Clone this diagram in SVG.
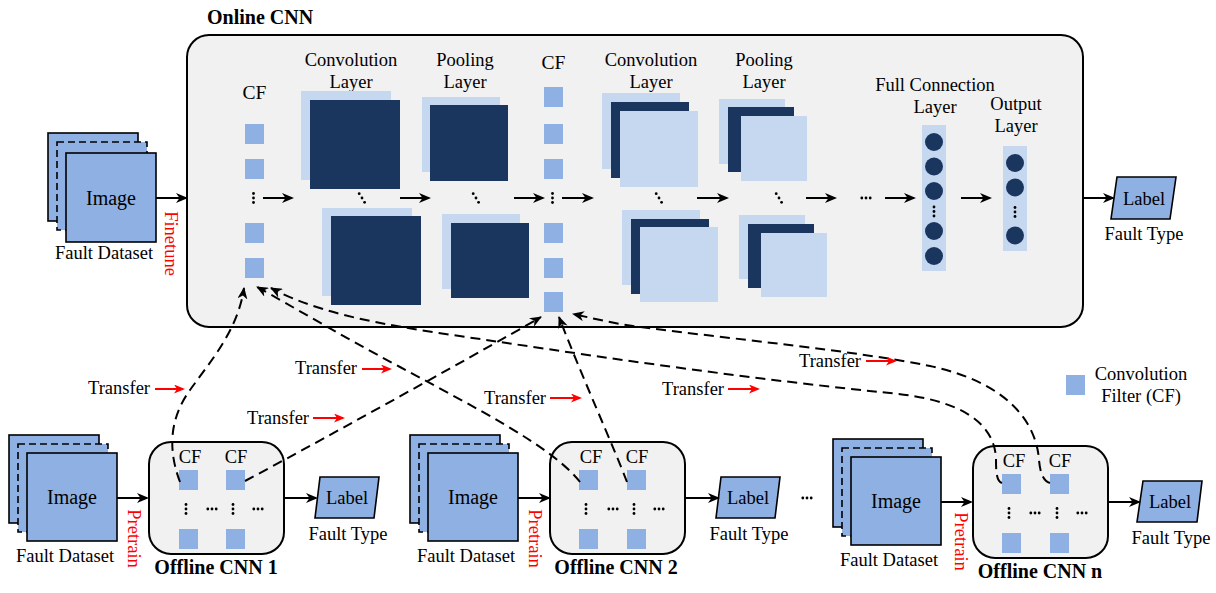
<svg xmlns="http://www.w3.org/2000/svg" width="1216" height="593" viewBox="0 0 1216 593">
<defs>
<style>
text{font-family:"Liberation Serif","Times New Roman",serif;font-size:18.5px;fill:#000}
.b{font-weight:bold;font-size:20px}
.r{fill:#ff0000}
.m{text-anchor:middle}
.img{fill:#8eb0e3;stroke:#000;stroke-width:1.6}
.dsh{stroke-dasharray:7,4}
.cf{fill:#8eb0e3}
.lt{fill:#c5d8ef}
.dk{fill:#1a355e}
.box{fill:#f1f1f1;stroke:#000;stroke-width:2}
.arr{stroke:#000;stroke-width:2;fill:none;marker-end:url(#ah)}
.rarr{stroke:#ff0000;stroke-width:2;fill:none;marker-end:url(#rh)}
.tr{stroke:#000;stroke-width:2;fill:none;stroke-dasharray:10,6;marker-end:url(#dh)}
.lbl{fill:#8eb0e3;stroke:#000;stroke-width:1.6}
</style>
<marker id="ah" viewBox="0 0 12 10" refX="10" refY="5" markerWidth="12" markerHeight="10" markerUnits="userSpaceOnUse" orient="auto"><path d="M0,0 L12,5 L0,10 L3.5,5 z" fill="#000"/></marker>
<marker id="rh" viewBox="0 0 11 9" refX="9" refY="4.5" markerWidth="11" markerHeight="9" markerUnits="userSpaceOnUse" orient="auto"><path d="M0,0 L11,4.5 L0,9 L3,4.5 z" fill="#ff0000"/></marker>
<marker id="dh" viewBox="0 0 12 10" refX="11" refY="5" markerWidth="12" markerHeight="10" markerUnits="userSpaceOnUse" orient="auto"><path d="M0,0 L12,5 L0,10 L3.5,5 z" fill="#000"/></marker>
<g id="vd"><circle cx="0" cy="-4.5" r="1.4"/><circle cx="0" cy="0" r="1.4"/><circle cx="0" cy="4.5" r="1.4"/></g>
<g id="hd"><circle cx="-4.2" cy="0" r="1.4"/><circle cx="0" cy="0" r="1.4"/><circle cx="4.2" cy="0" r="1.4"/></g>
<g id="dd"><circle cx="-2.8" cy="-4.3" r="1.4"/><circle cx="0" cy="0" r="1.4"/><circle cx="2.6" cy="4.3" r="1.4"/></g>
</defs>

<g id="online-cnn">
<text class="b" x="207" y="24">Online CNN</text>
<rect class="box" x="187" y="35" width="896" height="292" rx="22"/>
</g>

<g id="online-dataset">
<rect class="img" x="48" y="133" width="90" height="88"/>
<rect class="img dsh" x="57" y="142" width="90" height="88"/>
<rect class="img" x="66" y="153" width="90" height="89"/>
<text class="m" x="111" y="205" style="font-size:20px">Image</text>
<text class="m" x="104" y="259">Fault Dataset</text>
</g>
<text class="r m" transform="translate(165,243.5) rotate(90)">Finetune</text>

<g id="cf1">
<text class="m" x="254.5" y="99" style="font-size:19.5px">CF</text>
<rect class="cf" x="245" y="124" width="19" height="20"/>
<rect class="cf" x="245" y="159" width="19" height="20"/>
<use href="#vd" x="253.5" y="198"/>
<rect class="cf" x="245" y="223" width="19" height="20"/>
<rect class="cf" x="245" y="258" width="19" height="20"/>
</g>

<g id="conv1">
<text class="m" x="351" y="66">Convolution</text>
<text class="m" x="351" y="88">Layer</text>
<rect class="lt" x="301" y="91" width="90" height="89"/>
<rect class="dk" x="310" y="100" width="90" height="89"/>
<use href="#dd" x="362" y="198"/>
<rect class="lt" x="322" y="208" width="90" height="88"/>
<rect class="dk" x="331" y="216" width="90" height="89"/>
</g>

<g id="pool1">
<text class="m" x="465" y="66">Pooling</text>
<text class="m" x="465" y="88">Layer</text>
<rect class="lt" x="422" y="97" width="78" height="75"/>
<rect class="dk" x="430" y="105" width="78" height="76"/>
<use href="#dd" x="476" y="198"/>
<rect class="lt" x="442" y="214" width="78" height="75"/>
<rect class="dk" x="451" y="223" width="78" height="75"/>
</g>

<g id="cf2">
<text class="m" x="553.5" y="69" style="font-size:19.5px">CF</text>
<rect class="cf" x="544" y="87" width="19" height="20"/>
<rect class="cf" x="544" y="124" width="19" height="20"/>
<rect class="cf" x="544" y="159" width="19" height="20"/>
<use href="#vd" x="552.5" y="198"/>
<rect class="cf" x="544" y="223" width="19" height="20"/>
<rect class="cf" x="544" y="258" width="19" height="20"/>
<rect class="cf" x="544" y="292" width="19" height="20"/>
</g>

<g id="conv2">
<text class="m" x="651" y="66">Convolution</text>
<text class="m" x="651" y="88">Layer</text>
<rect class="lt" x="602" y="93" width="78" height="76"/>
<rect class="dk" x="611" y="102" width="78" height="76"/>
<rect class="lt" x="620" y="111" width="78" height="76"/>
<use href="#dd" x="659" y="198"/>
<rect class="lt" x="622" y="210" width="78" height="75"/>
<rect class="dk" x="631" y="219" width="78" height="75"/>
<rect class="lt" x="640" y="227" width="78" height="75"/>
</g>

<g id="pool2">
<text class="m" x="764" y="66">Pooling</text>
<text class="m" x="764" y="88">Layer</text>
<rect class="lt" x="719" y="99" width="66" height="65"/>
<rect class="dk" x="728" y="107" width="66" height="65"/>
<rect class="lt" x="741" y="116" width="66" height="65"/>
<use href="#dd" x="779" y="198"/>
<rect class="lt" x="739" y="215" width="66" height="64"/>
<rect class="dk" x="748" y="224" width="66" height="64"/>
<rect class="lt" x="761" y="233" width="66" height="64"/>
</g>

<g id="ellipsis-online"><use href="#hd" x="866" y="198"/></g>

<g id="full-connection">
<text class="m" x="935" y="91">Full Connection</text>
<text class="m" x="935" y="113">Layer</text>
<rect class="lt" x="922" y="125" width="24" height="146"/>
<g class="dk"><circle cx="934" cy="142" r="9"/><circle cx="934" cy="166.5" r="9"/><circle cx="934" cy="191" r="9"/><circle cx="934" cy="231" r="9"/><circle cx="934" cy="256" r="9"/></g>
<use href="#vd" x="934" y="211.5"/>
</g>

<g id="output-layer">
<text class="m" x="1016" y="110">Output</text>
<text class="m" x="1016" y="132">Layer</text>
<rect class="lt" x="1003" y="146" width="24" height="105"/>
<g class="dk"><circle cx="1015" cy="163" r="9"/><circle cx="1015" cy="187.5" r="9"/><circle cx="1015" cy="235.5" r="9"/></g>
<use href="#vd" x="1015" y="212"/>
</g>

<g id="online-label">
<polygon class="lbl" points="1117,177 1176,177 1170,219 1111,219"/>
<text class="m" x="1144" y="205">Label</text>
<text class="m" x="1144" y="240">Fault Type</text>
</g>

<!-- Offline CNN 1 -->
<g id="dataset1">
<rect class="img" x="9" y="435" width="90" height="88"/>
<rect class="img dsh" x="18" y="444" width="90" height="88"/>
<rect class="img" x="27" y="453" width="90" height="88"/>
<text class="m" x="72" y="504" style="font-size:20px">Image</text>
<text class="m" x="65" y="562">Fault Dataset</text>
</g>
<text class="r m" transform="translate(128,538.5) rotate(90)">Pretrain</text>
<g id="offline-cnn-1">
<rect class="box" x="149" y="442" width="135" height="112" rx="22"/>
<text class="m" x="190" y="463">CF</text>
<text class="m" x="236" y="463">CF</text>
<rect class="cf" x="179" y="470" width="19" height="20"/>
<rect class="cf" x="226" y="470" width="19" height="20"/>
<rect class="cf" x="179" y="529" width="19" height="20"/>
<rect class="cf" x="226" y="529" width="19" height="20"/>
<use href="#vd" x="186" y="509"/><use href="#hd" x="212" y="509"/>
<use href="#vd" x="233" y="509"/><use href="#hd" x="258" y="509"/>
<text class="b m" x="216" y="574">Offline CNN 1</text>
</g>
<g id="label1">
<polygon class="lbl" points="320,477 379,477 374,518 315,518"/>
<text class="m" x="347" y="504">Label</text>
<text class="m" x="348" y="540">Fault Type</text>
</g>

<!-- Offline CNN 2 -->
<g id="dataset2">
<rect class="img" x="410" y="435" width="90" height="88"/>
<rect class="img dsh" x="419" y="444" width="90" height="88"/>
<rect class="img" x="428" y="453" width="90" height="88"/>
<text class="m" x="473" y="504" style="font-size:20px">Image</text>
<text class="m" x="466" y="562">Fault Dataset</text>
</g>
<text class="r m" transform="translate(529,538.5) rotate(90)">Pretrain</text>
<g id="offline-cnn-2">
<rect class="box" x="550" y="442" width="135" height="112" rx="22"/>
<text class="m" x="591" y="463">CF</text>
<text class="m" x="637" y="463">CF</text>
<rect class="cf" x="579" y="470" width="19" height="20"/>
<rect class="cf" x="627" y="470" width="19" height="20"/>
<rect class="cf" x="579" y="529" width="19" height="20"/>
<rect class="cf" x="627" y="529" width="19" height="20"/>
<use href="#vd" x="586" y="509"/><use href="#hd" x="613" y="509"/>
<use href="#vd" x="634" y="509"/><use href="#hd" x="659" y="509"/>
<text class="b m" x="616" y="574">Offline CNN 2</text>
</g>
<g id="label2">
<polygon class="lbl" points="721,477 780,477 775,518 716,518"/>
<text class="m" x="748" y="504">Label</text>
<text class="m" x="749" y="540">Fault Type</text>
</g>

<g id="ellipsis-bottom"><use href="#hd" x="807" y="498"/></g>

<!-- Offline CNN n -->
<g id="dataset-n">
<rect class="img" x="833" y="439" width="90" height="88"/>
<rect class="img dsh" x="842" y="448" width="90" height="88"/>
<rect class="img" x="851" y="457" width="90" height="88"/>
<text class="m" x="896" y="508" style="font-size:20px">Image</text>
<text class="m" x="889" y="566">Fault Dataset</text>
</g>
<text class="r m" transform="translate(955,541.5) rotate(90)">Pretrain</text>
<g id="offline-cnn-n">
<rect class="box" x="973" y="446" width="135" height="112" rx="22"/>
<text class="m" x="1014" y="467">CF</text>
<text class="m" x="1060" y="467">CF</text>
<rect class="cf" x="1002" y="474" width="19" height="20"/>
<rect class="cf" x="1050" y="474" width="19" height="20"/>
<rect class="cf" x="1002" y="533" width="19" height="20"/>
<rect class="cf" x="1050" y="533" width="19" height="20"/>
<use href="#vd" x="1009" y="513"/><use href="#hd" x="1035" y="513"/>
<use href="#vd" x="1057" y="513"/><use href="#hd" x="1082" y="513"/>
<text class="b m" x="1040" y="578">Offline CNN n</text>
</g>
<g id="label-n">
<polygon class="lbl" points="1143,481 1202,481 1197,522 1137,522"/>
<text class="m" x="1170" y="508">Label</text>
<text class="m" x="1171" y="544">Fault Type</text>
</g>

<g id="legend">
<rect class="cf" x="1066" y="375" width="19" height="20"/>
<text class="m" x="1141" y="380">Convolution</text>
<text class="m" x="1141" y="402">Filter (CF)</text>
</g>

<g id="connectors">
<path class="arr" d="M156,198 L186,198"/>
<path class="arr" d="M263,198 L292,198"/>
<path class="arr" d="M400,198 L429,198"/>
<path class="arr" d="M514,198 L543,198"/>
<path class="arr" d="M562,198 L592,198"/>
<path class="arr" d="M697,198 L727,198"/>
<path class="arr" d="M806,198 L835,198"/>
<path class="arr" d="M885,198 L914,198"/>
<path class="arr" d="M961,198 L990,198"/>
<path class="arr" d="M1083,198 L1113,198"/>
<path class="arr" d="M117,498 L147,498"/>
<path class="arr" d="M284,498 L316,498"/>
<path class="arr" d="M518,498 L549,498"/>
<path class="arr" d="M685,498 L718,498"/>
<path class="arr" d="M941,502 L971,502"/>
<path class="arr" d="M1108,502 L1139,502"/>

<path class="tr" d="M180,482 C166,445 172,415 190,390 C210,362 238,330 244,288"/>
<path class="tr" d="M245,481 C300,452 470,358 541,317"/>
<path class="tr" d="M580,482 C552,446 470,405 400,367 C340,335 290,305 257,287"/>
<path class="tr" d="M627,482 C615,450 580,372 559,317"/>
<path class="tr" d="M1002,483 C996,481 996,470 996,458 C994,425 965,400 890,393 C760,380 620,360 500,342 C420,330 330,320 271,288"/>
<path class="tr" d="M1050,483 C1043,481 1040,472 1039,460 C1036,420 1005,382 930,366 C850,350 740,340 640,327 C615,324 592,318 573,314"/>

<text x="88" y="394">Transfer</text><path class="rarr" d="M155,389 L183,389"/>
<text x="247" y="424">Transfer</text><path class="rarr" d="M313,418 L343,418"/>
<text x="295" y="374">Transfer</text><path class="rarr" d="M362,369 L390,369"/>
<text x="484" y="404">Transfer</text><path class="rarr" d="M550,398 L580,398"/>
<text x="662" y="395">Transfer</text><path class="rarr" d="M728,389 L758,389"/>
<text x="799" y="367">Transfer</text><path class="rarr" d="M866,361 L895,361"/>
</g>
</svg>
